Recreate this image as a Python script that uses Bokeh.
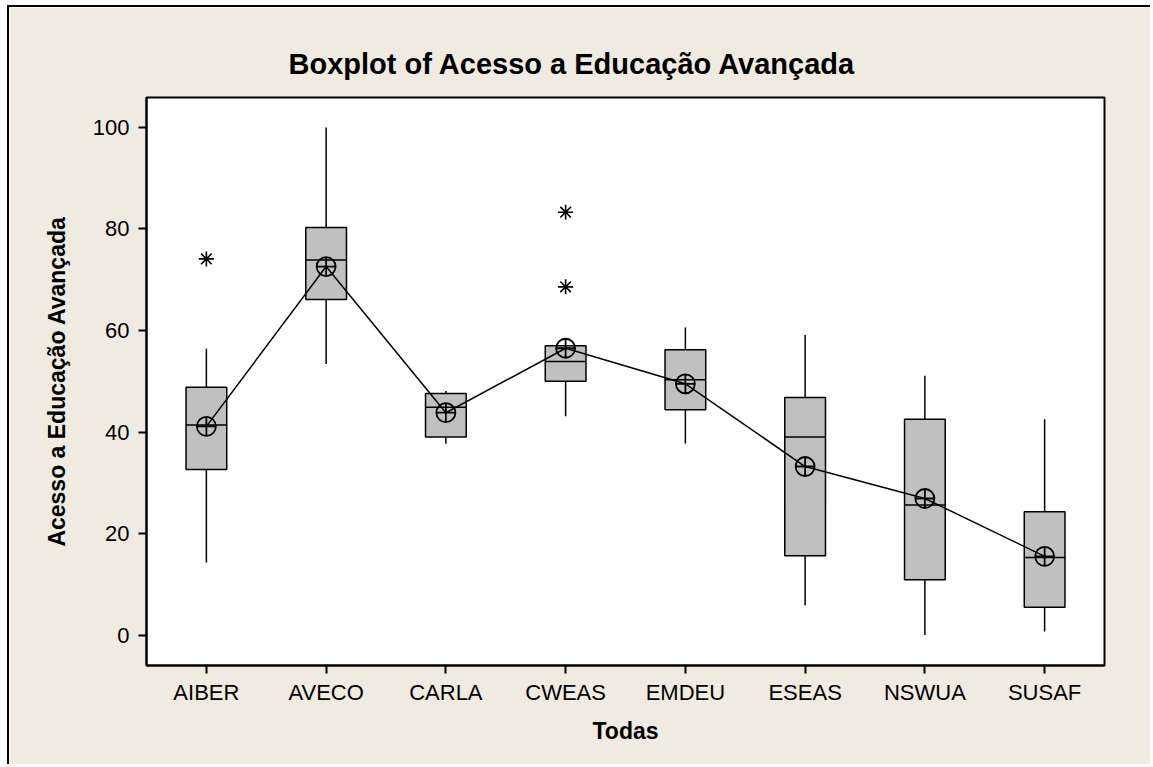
from bokeh.plotting import figure
from bokeh.models import Range1d, FixedTicker, ColumnDataSource
from bokeh.transform import dodge
from bokeh.embed import file_html
from bokeh.resources import INLINE

categories = ["AIBER", "AVECO", "CARLA", "CWEAS", "EMDEU", "ESEAS", "NSWUA", "SUSAF"]
whisker_low = [14.3, 53.4, 37.7, 43.1, 37.7, 5.8, 0.0, 0.7]
q1 = [32.6, 66.1, 39.0, 50.0, 44.4, 15.6, 10.9, 5.5]
median = [41.4, 73.9, 44.9, 53.9, 50.3, 39.0, 25.6, 15.3]
q3 = [48.8, 80.3, 47.6, 57.0, 56.2, 46.8, 42.5, 24.3]
whisker_high = [56.4, 100.0, 48.1, 57.0, 60.6, 59.1, 51.1, 42.5]
means = [41.1, 72.6, 43.8, 56.5, 49.5, 33.2, 26.9, 15.5]
outlier_cat = ["AIBER", "CWEAS", "CWEAS"]
outlier_val = [74.1, 83.3, 68.6]
y_ticks = [0, 20, 40, 60, 80, 100]

FONT = "Liberation Sans"
BG = "#EFEBE1"

src = ColumnDataSource(dict(cat=categories, lo=whisker_low, q1=q1, med=median,
                            q3=q3, hi=whisker_high, mean=means))
out_src = ColumnDataSource(dict(cat=outlier_cat, val=outlier_val))

p = figure(x_range=categories, y_range=Range1d(-6.0, 105.9),
           width=1143, height=759, output_backend="svg", toolbar_location=None,
           min_border_left=137, min_border_right=48, min_border_top=90, min_border_bottom=101,
           title="Boxplot of Acesso a Educação Avançada",
           styles={"margin-left": "7px", "margin-top": "5px",
                   "border-left": "2px solid black", "border-top": "2px solid black"})

p.title.text_font = FONT
p.title.text_font_size = "29px"
p.title.text_font_style = "bold"
p.title.text_color = "black"
p.title.align = "left"
p.title.offset = 142
p.title.standoff = 36

p.background_fill_color = "white"
p.border_fill_color = BG
p.outline_line_color = "black"
p.outline_line_width = 2
p.xgrid.visible = False
p.ygrid.visible = False

# whiskers
p.segment(x0="cat", y0="lo", x1="cat", y1="q1", source=src, line_color="black", line_width=1.5)
p.segment(x0="cat", y0="q3", x1="cat", y1="hi", source=src, line_color="black", line_width=1.5)
# boxes
p.vbar(x="cat", width=0.34, bottom="q1", top="q3", source=src,
       fill_color="#C0C0C0", line_color="black", line_width=1.5)
# medians
p.segment(x0=dodge("cat", -0.17, range=p.x_range), y0="med",
          x1=dodge("cat", 0.17, range=p.x_range), y1="med",
          source=src, line_color="black", line_width=1.5)
# mean connect line
p.line(x="cat", y="mean", source=src, line_color="black", line_width=1.5)
p.scatter(x="cat", y="mean", source=src, marker="circle_cross", size=19,
          fill_color=None, line_color="black", line_width=1.8)
# outliers
p.scatter(x="cat", y="val", source=out_src, marker="asterisk", size=15,
          line_color="black", line_width=1.6)

for ax in (p.xaxis[0], p.yaxis[0]):
    ax.axis_line_color = "black"
    ax.axis_line_width = 2
    ax.major_tick_line_color = "black"
    ax.major_tick_line_width = 2
    ax.major_tick_out = 8
    ax.major_tick_in = 0
    ax.minor_tick_line_color = None
    ax.major_label_text_font = FONT
    ax.major_label_text_font_size = "22px"
    ax.major_label_text_color = "black"
    ax.axis_label_text_font = FONT
    ax.axis_label_text_font_size = "23px"
    ax.axis_label_text_font_style = "bold"
    ax.axis_label_text_color = "black"

p.yaxis.ticker = FixedTicker(ticks=y_ticks)
p.yaxis.axis_label = "Acesso a Educação Avançada"
p.yaxis.major_label_standoff = 9
p.yaxis.axis_label_standoff = 20
p.xaxis.axis_label = "Todas"
p.xaxis.major_label_standoff = 6
p.xaxis.axis_label_standoff = 10

open("out.html", "w").write(file_html(p, INLINE))
